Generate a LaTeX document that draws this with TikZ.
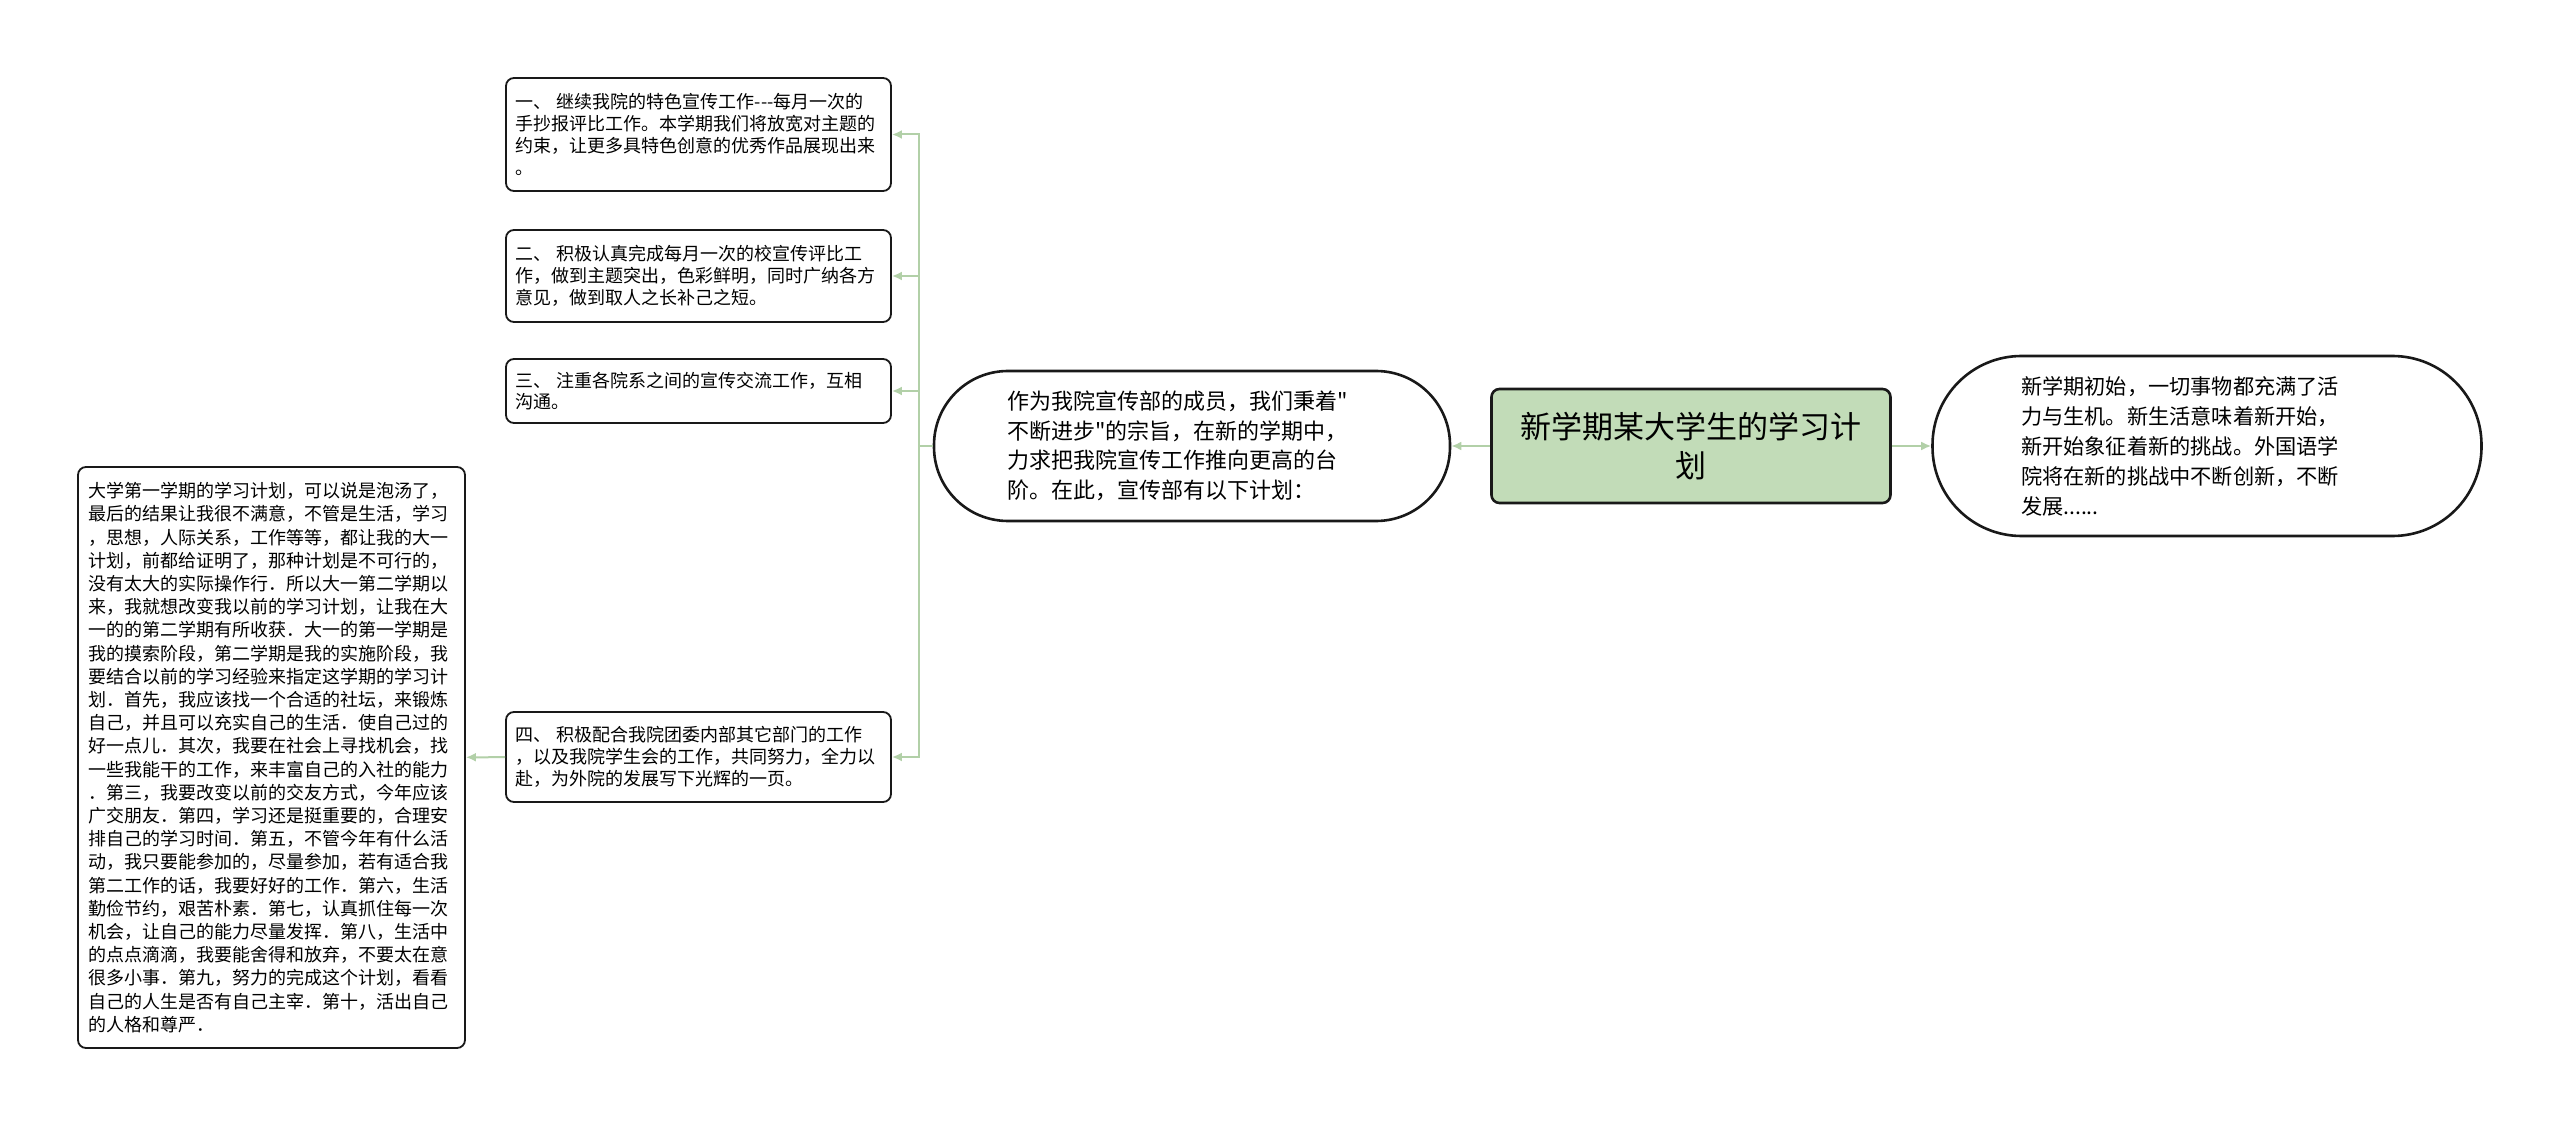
\documentclass[tikz,border=0pt]{standalone}
\usepackage{fontspec}
\setmainfont[Ligatures=TeXOff]{Noto Sans CJK SC}
\usepackage{tikz}
\usetikzlibrary{arrows.meta,positioning}
\definecolor{rootgreen}{RGB}{194,220,184}
\definecolor{linkgreen}{RGB}{178,208,168}
\definecolor{inkline}{RGB}{25,25,25}

\begin{document}
\begin{tikzpicture}[auto, x=0.5pt, y=-0.5pt,
    link/.style={draw=linkgreen, line width=1pt, -{Latex[length=5pt,width=4.5pt]}},
    topic/.style={draw=inkline, fill=rootgreen, line width=1.3pt, rounded corners=4pt, align=center,
      minimum width=199.5pt, minimum height=57pt, font=\fontsize{15.5}{19.5}\selectfont},
    pill/.style={draw=inkline, line width=1.3pt, align=left, font=\fontsize{11}{14.8}\selectfont},
    leaf/.style={draw=inkline, line width=0.9pt, rounded corners=4pt, align=left, text width=183.5pt,
      inner xsep=4.5pt, inner ysep=2pt, font=\fontsize{9}{10.9}\selectfont},
    note/.style={leaf, inner xsep=5pt, font=\fontsize{9}{11.6}\selectfont}]
  \useasboundingbox (0,0) rectangle (2560,1128);

  \node[topic] (root) at (1691,446) {新学期某大学生的学习计\\划};
  \node[pill, minimum width=274.5pt, minimum height=90pt, text width=186pt, rounded corners=44.5pt,
    font=\fontsize{10.6}{15}\selectfont] (intro) at (2207,446)
    {新学期初始，一切事物都充满了活\\力与生机。新生活意味着新开始，\\新开始象征着新的挑战。外国语学\\院将在新的挑战中不断创新，不断\\发展......};
  \node[pill, minimum width=258pt, minimum height=75pt, text width=185pt, rounded corners=37pt] (dept) at (1192,446)
    {作为我院宣传部的成员，我们秉着"\\不断进步"的宗旨，在新的学期中，\\力求把我院宣传工作推向更高的台\\阶。在此，宣传部有以下计划：};

  \node[leaf, minimum height=56.5pt] (plan1) at (698.5,134.5)
    {一、 继续我院的特色宣传工作---每月一次的\\手抄报评比工作。本学期我们将放宽对主题的\\约束，让更多具特色创意的优秀作品展现出来\\。};
  \node[leaf, minimum height=46pt] (plan2) at (698.5,276)
    {二、 积极认真完成每月一次的校宣传评比工\\作，做到主题突出，色彩鲜明，同时广纳各方\\意见，做到取人之长补己之短。};
  \node[leaf, minimum height=32pt] (plan3) at (698.5,391)
    {三、 注重各院系之间的宣传交流工作，互相\\沟通。};
  \node[leaf, minimum height=45pt] (plan4) at (698.5,757)
    {四、 积极配合我院团委内部其它部门的工作\\，以及我院学生会的工作，共同努力，全力以\\赴，为外院的发展写下光辉的一页。};

  \node[note, minimum height=290.5pt] (review) at (271.5,757.5)
    {大学第一学期的学习计划，可以说是泡汤了，\\最后的结果让我很不满意，不管是生活，学习\\，思想，人际关系，工作等等，都让我的大一\\计划，前都给证明了，那种计划是不可行的，\\没有太大的实际操作行．所以大一第二学期以\\来，我就想改变我以前的学习计划，让我在大\\一的的第二学期有所收获．大一的第一学期是\\我的摸索阶段，第二学期是我的实施阶段，我\\要结合以前的学习经验来指定这学期的学习计\\划．首先，我应该找一个合适的社坛，来锻炼\\自己，并且可以充实自己的生活．使自己过的\\好一点儿．其次，我要在社会上寻找机会，找\\一些我能干的工作，来丰富自己的入社的能力\\．第三，我要改变以前的交友方式，今年应该\\广交朋友．第四，学习还是挺重要的，合理安\\排自己的学习时间．第五，不管今年有什么活\\动，我只要能参加的，尽量参加，若有适合我\\第二工作的话，我要好好的工作．第六，生活\\勤俭节约，艰苦朴素．第七，认真抓住每一次\\机会，让自己的能力尽量发挥．第八，生活中\\的点点滴滴，我要能舍得和放弃，不要太在意\\很多小事．第九，努力的完成这个计划，看看\\自己的人生是否有自己主宰．第十，活出自己\\的人格和尊严．};

  \coordinate (fork) at (919,446);

  \draw[link] (root) to (intro);
  \draw[link] (root) to (dept);
  \draw[link] (dept.west) -- (fork) |- (plan1.east);
  \draw[link] (dept.west) -- (fork) |- (plan2.east);
  \draw[link] (dept.west) -- (fork) |- (plan3.east);
  \draw[link] (dept.west) -- (fork) |- (plan4.east);
  \draw[link] (plan4) to (review);
\end{tikzpicture}
\end{document}
